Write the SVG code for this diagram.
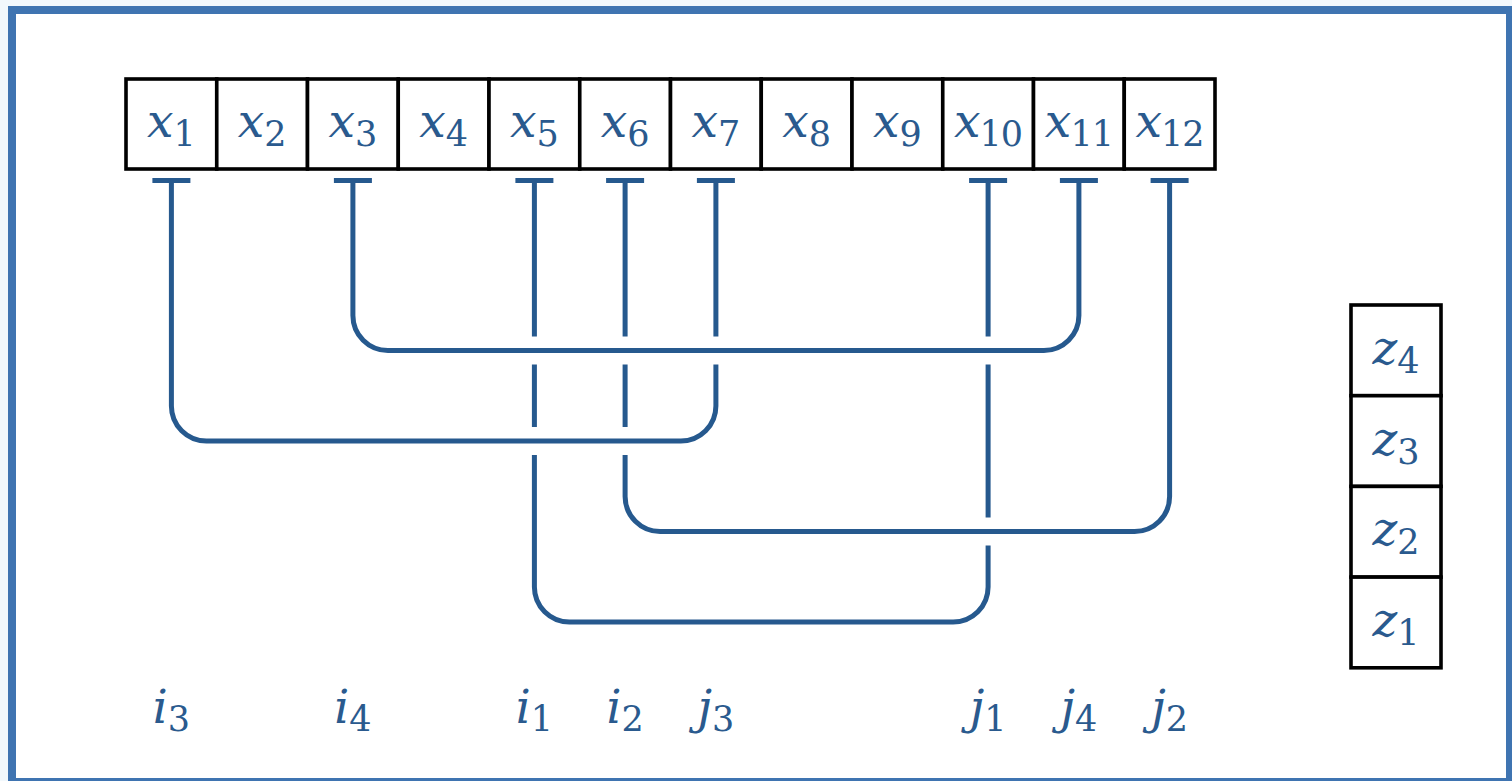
<svg xmlns="http://www.w3.org/2000/svg" width="1512" height="781" viewBox="0 0 1512 781">
<style>
.cell{fill:#fff;stroke:#000;stroke-width:3.6}
.lbl{font-family:'DejaVu Serif',serif;fill:#2a5a8e;text-anchor:middle}
.v{font-style:italic;font-size:47px}
.s{font-size:35px}
.w{fill:none;stroke:#26598e;stroke-width:5}
</style>
<rect x="0" y="0" width="1512" height="781" fill="#f2f8fc"/>
<rect x="12" y="10" width="1498" height="772" fill="#fff" stroke="#3f74b1" stroke-width="8"/>

<g id="xarray">
<g id="x1"><rect class="cell" x="126" y="79" width="90.75" height="90"/><text class="lbl" x="171.4" y="137"><tspan class="v">x</tspan><tspan class="s" dy="9">1</tspan></text></g>
<g id="x2"><rect class="cell" x="216.75" y="79" width="90.75" height="90"/><text class="lbl" x="262.1" y="137"><tspan class="v">x</tspan><tspan class="s" dy="9">2</tspan></text></g>
<g id="x3"><rect class="cell" x="307.5" y="79" width="90.75" height="90"/><text class="lbl" x="352.9" y="137"><tspan class="v">x</tspan><tspan class="s" dy="9">3</tspan></text></g>
<g id="x4"><rect class="cell" x="398.25" y="79" width="90.75" height="90"/><text class="lbl" x="443.6" y="137"><tspan class="v">x</tspan><tspan class="s" dy="9">4</tspan></text></g>
<g id="x5"><rect class="cell" x="489" y="79" width="90.75" height="90"/><text class="lbl" x="534.4" y="137"><tspan class="v">x</tspan><tspan class="s" dy="9">5</tspan></text></g>
<g id="x6"><rect class="cell" x="579.75" y="79" width="90.75" height="90"/><text class="lbl" x="625.1" y="137"><tspan class="v">x</tspan><tspan class="s" dy="9">6</tspan></text></g>
<g id="x7"><rect class="cell" x="670.5" y="79" width="90.75" height="90"/><text class="lbl" x="715.9" y="137"><tspan class="v">x</tspan><tspan class="s" dy="9">7</tspan></text></g>
<g id="x8"><rect class="cell" x="761.25" y="79" width="90.75" height="90"/><text class="lbl" x="806.6" y="137"><tspan class="v">x</tspan><tspan class="s" dy="9">8</tspan></text></g>
<g id="x9"><rect class="cell" x="852" y="79" width="90.75" height="90"/><text class="lbl" x="897.4" y="137"><tspan class="v">x</tspan><tspan class="s" dy="9">9</tspan></text></g>
<g id="x10"><rect class="cell" x="942.75" y="79" width="90.75" height="90"/><text class="lbl" x="988.1" y="137" letter-spacing="-1"><tspan class="v">x</tspan><tspan class="s" dy="9">10</tspan></text></g>
<g id="x11"><rect class="cell" x="1033.5" y="79" width="90.75" height="90"/><text class="lbl" x="1078.9" y="137" letter-spacing="-1"><tspan class="v">x</tspan><tspan class="s" dy="9">11</tspan></text></g>
<g id="x12"><rect class="cell" x="1124.25" y="79" width="90.75" height="90"/><text class="lbl" x="1169.6" y="137" letter-spacing="-1"><tspan class="v">x</tspan><tspan class="s" dy="9">12</tspan></text></g>
</g>

<g id="zarray">
<g id="z4"><rect class="cell" x="1351" y="305" width="90" height="90.7"/><text class="lbl" x="1396" y="364"><tspan class="v">z</tspan><tspan class="s" dy="9">4</tspan></text></g>
<g id="z3"><rect class="cell" x="1351" y="395.7" width="90" height="90.7"/><text class="lbl" x="1396" y="454.7"><tspan class="v">z</tspan><tspan class="s" dy="9">3</tspan></text></g>
<g id="z2"><rect class="cell" x="1351" y="486.4" width="90" height="90.7"/><text class="lbl" x="1396" y="545.4"><tspan class="v">z</tspan><tspan class="s" dy="9">2</tspan></text></g>
<g id="z1"><rect class="cell" x="1351" y="577.1" width="90" height="90.7"/><text class="lbl" x="1396" y="636.1"><tspan class="v">z</tspan><tspan class="s" dy="9">1</tspan></text></g>
</g>

<g id="connectors" class="w">
<path d="M152.4 180.5h38M333.9 180.5h38M515.4 180.5h38M606.1 180.5h38M696.9 180.5h38M969.1 180.5h38M1059.9 180.5h38M1150.6 180.5h38"/>
<path d="M352.9 180.5V315.5a35 35 0 0 0 35 35H1043.9a35 35 0 0 0 35 -35V180.5"/>
<path d="M171.4 180.5V406a35 35 0 0 0 35 35H680.9a35 35 0 0 0 35 -35V364.5M715.9 336.5V180.5"/>
<path d="M625.1 180.5V336.5M625.1 364.5V427M625.1 455V496.5a35 35 0 0 0 35 35H1134.6a35 35 0 0 0 35 -35V180.5"/>
<path d="M534.4 180.5V336.5M534.4 364.5V427M534.4 455V587a35 35 0 0 0 35 35H953.1a35 35 0 0 0 35 -35V545.5M988.1 517.5V364.5M988.1 336.5V180.5"/>
</g>

<g id="labels">
<text class="lbl" x="171.4" y="723"><tspan class="v">i</tspan><tspan class="s" dy="8">3</tspan></text>
<text class="lbl" x="352.9" y="723"><tspan class="v">i</tspan><tspan class="s" dy="8">4</tspan></text>
<text class="lbl" x="534.4" y="723"><tspan class="v">i</tspan><tspan class="s" dy="8">1</tspan></text>
<text class="lbl" x="625.1" y="723"><tspan class="v">i</tspan><tspan class="s" dy="8">2</tspan></text>
<text class="lbl" x="715.9" y="723"><tspan class="v">j</tspan><tspan class="s" dy="8">3</tspan></text>
<text class="lbl" x="988.1" y="723"><tspan class="v">j</tspan><tspan class="s" dy="8">1</tspan></text>
<text class="lbl" x="1078.9" y="723"><tspan class="v">j</tspan><tspan class="s" dy="8">4</tspan></text>
<text class="lbl" x="1169.6" y="723"><tspan class="v">j</tspan><tspan class="s" dy="8">2</tspan></text>
</g>
</svg>
